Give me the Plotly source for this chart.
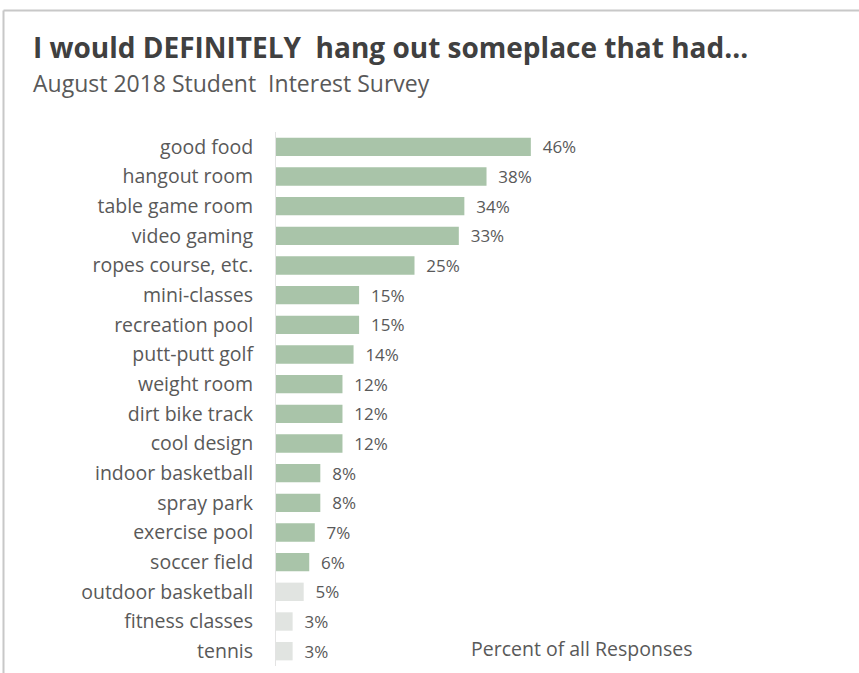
import plotly.graph_objects as go

# Survey results, in display order (top to bottom)
categories = [
    "good food", "hangout room", "table game room", "video gaming",
    "ropes course, etc.", "mini-classes", "recreation pool", "putt-putt golf",
    "weight room", "dirt bike track", "cool design", "indoor basketball",
    "spray park", "exercise pool", "soccer field", "outdoor basketball",
    "fitness classes", "tennis",
]
percents = [46, 38, 34, 33, 25, 15, 15, 14, 12, 12, 12, 8, 8, 7, 6, 5, 3, 3]
highlighted = [True] * 15 + [False] * 3

GREEN = "#a9c4a9"
PALE = "#e1e4e1"
TEXT = "#595959"
FONT = "'Open Sans', Lato, sans-serif"

W, H = 859, 673
ML, MR, MT, MB = 276, 29, 132, 7

fig = go.Figure(
    go.Bar(
        x=percents,
        y=categories,
        orientation="h",
        marker=dict(color=[GREEN if h else PALE for h in highlighted], line=dict(width=0)),
        text=["\u00a0\u00a0" + f"{p}%" for p in percents],
        textposition="outside",
        constraintext="none",
        cliponaxis=False,
        textfont=dict(family=FONT, size=17, color=TEXT),
        hoverinfo="skip",
    )
)

fig.update_layout(
    width=W,
    height=H,
    margin=dict(l=ML, r=MR, t=MT, b=MB, pad=0),
    paper_bgcolor="white",
    plot_bgcolor="white",
    showlegend=False,
    bargap=0.38,
    font=dict(family=FONT, color=TEXT),
    xaxis=dict(range=[0, 100], visible=False, fixedrange=True),
    yaxis=dict(
        autorange="reversed",
        showline=True,
        linecolor="#e3e3e3",
        linewidth=1,
        ticks="",
        ticklabelstandoff=18,
        tickfont=dict(family=FONT, size=19.5, color=TEXT),
        showgrid=False,
        fixedrange=True,
    ),
)

pw = W - ML - MR
ph = H - MT - MB


def px_x(px):
    return (px - ML) / pw


def px_y(py):
    return (H - MB - py) / ph


fig.add_annotation(
    text="<b>I would DEFINITELY  hang out someplace that had...</b>",
    xref="paper", yref="paper", x=px_x(31), y=px_y(47),
    xanchor="left", yanchor="middle", showarrow=False,
    font=dict(family=FONT, size=28, color="#404040"),
)
fig.add_annotation(
    text="August 2018 Student  Interest Survey",
    xref="paper", yref="paper", x=px_x(31), y=px_y(83),
    xanchor="left", yanchor="middle", showarrow=False,
    font=dict(family=FONT, size=23, color=TEXT),
)
fig.add_annotation(
    text="Percent of all Responses",
    xref="paper", yref="paper", x=px_x(469), y=px_y(648),
    xanchor="left", yanchor="middle", showarrow=False,
    font=dict(family=FONT, size=19.5, color=TEXT),
)

# frame edges (top and left)
frame = dict(color="#c8c8c8", width=2)
fig.add_shape(type="line", xref="paper", yref="paper",
              x0=px_x(3.5), x1=px_x(W + 5), y0=px_y(10.5), y1=px_y(10.5), line=frame)
fig.add_shape(type="line", xref="paper", yref="paper",
              x0=px_x(3.5), x1=px_x(3.5), y0=px_y(10.5), y1=px_y(H + 5), line=frame)

fig.write_html("out.html")
